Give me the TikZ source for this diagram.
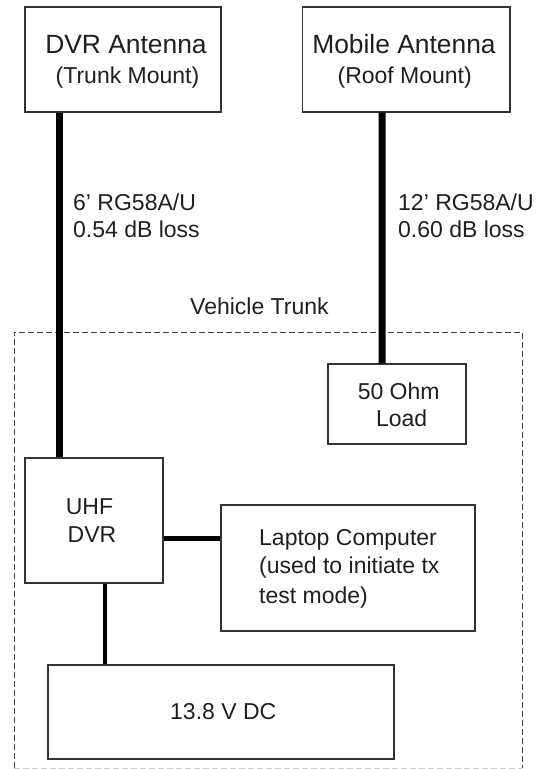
\documentclass[tikz,border=0pt]{standalone}
\usepackage{fontspec}
\setmainfont{Liberation Sans}
\begin{document}
\begin{tikzpicture}[x=1pt,y=-1pt,
  box/.style={draw=black!80,line width=1.1pt,fill=none,inner sep=0pt},
  txt/.style={inner sep=0pt,anchor=base,text=black!88,font=\fontsize{23}{27}\selectfont},
  ttl/.style={txt,font=\fontsize{26.4}{30}\selectfont},
  ltxt/.style={txt,anchor=base west},
  coax/.style={line width=7pt,black},
  wire/.style={line width=5.5pt,black},
  thinwire/.style={line width=4pt,black},
  trunk/.style={draw=black!75,line width=1pt,dash pattern=on 6pt off 3pt}]
\useasboundingbox (0,0) rectangle (549,769);
% trunk region
\draw[trunk] (14,768) -- (14,332) -- (522,332) -- (522,768);
\draw[draw=black!20,line width=1pt,dash pattern=on 6pt off 3pt] (14,768) -- (522,768);
\node[ltxt] (trunklbl) at (190,314) {Vehicle Trunk};
% boxes
\node[box,minimum width=196pt,minimum height=105pt] (dvrant) at (123,59.5) {};
\node[box,minimum width=207.3pt,minimum height=105pt] (mobant) at (406.35,59.5) {};
\node[box,minimum width=138pt,minimum height=80pt] (load) at (397,404) {};
\node[box,minimum width=138pt,minimum height=125pt] (uhf) at (94,520.5) {};
\node[box,minimum width=254pt,minimum height=126pt] (laptop) at (348,568) {};
\node[box,minimum width=346pt,minimum height=94pt] (dc) at (221,712) {};
% texts
\node[ttl] (t1) at (126,53.3) {DVR Antenna};
\node[txt] (t2) at (127.5,83.3) {(Trunk Mount)};
\node[ttl] (t3) at (404,53.3) {Mobile Antenna};
\node[txt] (t4) at (404.7,83.3) {(Roof Mount)};
\node[ltxt] (c1a) at (73,210) {6’ RG58A/U};
\node[ltxt] (c1b) at (73,237) {0.54 dB loss};
\node[ltxt] (c2a) at (398,210) {12’ RG58A/U};
\node[ltxt] (c2b) at (398,237) {0.60 dB loss};
\node[txt] (l1) at (398.7,399.3) {50 Ohm};
\node[txt] (l2) at (401.7,426.7) {Load};
\node[txt] (u1) at (89.5,514) {UHF};
\node[txt] (u2) at (92,542.3) {DVR};
\node[ltxt] (p1) at (259,545.7) {Laptop Computer};
\node[ltxt] (p2) at (259,573.3) {(used to initiate tx};
\node[ltxt] (p3) at (259,603.3) {test mode)};
\node[ltxt] (d1) at (170,719) {13.8 V DC};
% connectors
\draw[coax] ([xshift=34.7pt]dvrant.south west) -- ([xshift=34.7pt]uhf.north west);
\draw[coax] ([xshift=80pt]mobant.south west) -- ([xshift=54.7pt]load.north west);
\draw[wire] ([yshift=-18.2pt]uhf.east) -- ([yshift=-18.2pt]uhf.east -| laptop.west);
\draw[thinwire] ([xshift=80.3pt]uhf.south west) -- ([xshift=80.3pt]uhf.south west |- dc.north);
\end{tikzpicture}
\end{document}
